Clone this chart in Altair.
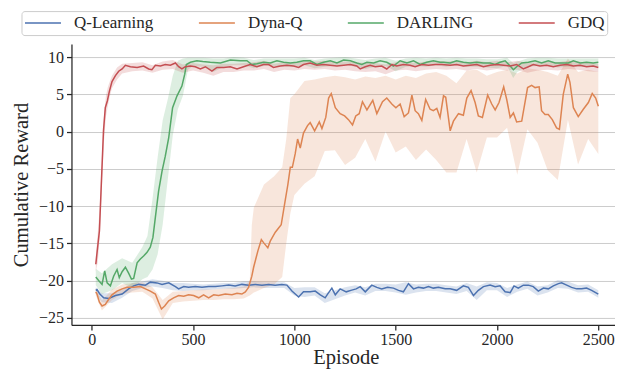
import altair as alt
import pandas as pd

FONT = "Liberation Serif"
METHODS = ["Q-Learning", "Dyna-Q", "DARLING", "GDQ"]
COLORS = ["#4C72B0", "#DD8452", "#55A868", "#C44E52"]
X_TICKS = [0, 500, 1000, 1500, 2000, 2500]
Y_TICKS = [-25, -20, -15, -10, -5, 0, 5, 10]

# ---------------- Q-Learning ----------------
QL_EP = [20, 26, 40, 59, 84, 117, 150, 182, 207, 232, 265, 289, 322, 347, 380, 413, 429, 454, 478, 511,
         544, 577, 610, 643, 676, 708, 741, 774, 807, 840, 873, 905, 938, 963, 988, 1021, 1045, 1078, 1103, 1128,
         1152, 1164, 1185, 1202, 1226, 1256, 1279, 1305, 1325, 1350, 1382, 1407, 1431, 1460, 1489, 1514, 1538, 1563, 1588, 1612,
         1637, 1662, 1686, 1711, 1744, 1769, 1801, 1834, 1859, 1884, 1908, 1933, 1966, 1991, 2015, 2040, 2065, 2084, 2105, 2130,
         2155, 2179, 2204, 2229, 2253, 2278, 2303, 2319, 2344, 2368, 2393, 2418, 2442, 2467, 2500]
QL_MEAN = [-21.3, -21.2, -21.8, -22.3, -22.4, -22.0, -21.8, -21.1, -20.7, -20.5, -20.6, -20.2, -20.3, -20.5, -20.3, -20.8, -21.1, -20.8, -20.9, -20.8,
           -20.9, -20.8, -20.8, -20.7, -20.6, -20.7, -20.5, -20.6, -20.5, -20.6, -20.5, -20.6, -20.5, -20.6, -21.4, -22.2, -21.5, -21.5, -21.4, -21.9,
           -22.3, -21.8, -21.0, -21.9, -21.1, -21.5, -21.3, -21.1, -20.8, -21.5, -20.6, -20.9, -21.1, -20.9, -21.0, -21.3, -21.5, -20.4, -21.1, -20.9,
           -21.0, -20.8, -21.0, -20.9, -21.1, -21.1, -21.3, -20.7, -20.9, -22.0, -21.3, -20.8, -20.6, -20.8, -20.7, -21.5, -21.6, -20.7, -21.0, -20.6,
           -20.6, -20.8, -21.4, -21.0, -21.1, -20.7, -20.4, -20.3, -20.6, -20.9, -21.1, -21.1, -21.0, -21.3, -21.8]
QL_BAND_EP = [20, 50, 100, 150, 200, 250, 300, 350, 400, 450, 500, 550, 600, 650, 700, 750, 800, 850, 900, 950,
              1000, 1050, 1100, 1150, 1200, 1250, 1300, 1350, 1400, 1450, 1500, 1550, 1600, 1650, 1700, 1750, 1800, 1850, 1900, 1950,
              2000, 2050, 2100, 2150, 2200, 2250, 2300, 2350, 2400, 2450, 2500]
QL_LO = [-21.7, -22.9, -23.0, -22.3, -21.4, -21.0, -20.8, -21.0, -21.3, -21.4, -21.3, -21.3, -21.2, -21.1, -21.1, -21.0, -20.9, -21.0, -21.0, -21.0,
         -22.0, -22.2, -22.0, -23.0, -22.5, -22.0, -21.6, -22.0, -21.4, -21.4, -21.6, -21.9, -21.6, -21.4, -21.4, -21.6, -21.8, -21.4, -22.6, -21.3,
         -21.3, -22.2, -21.5, -21.1, -22.0, -21.6, -21.0, -21.1, -21.6, -21.5, -22.3]
QL_HI = [-20.9, -21.7, -21.7, -21.2, -20.3, -20.1, -19.8, -20.0, -20.3, -20.3, -20.4, -20.5, -20.4, -20.3, -20.3, -20.1, -20.1, -20.2, -20.2, -20.2,
         -21.0, -20.9, -20.9, -21.7, -21.3, -20.9, -20.6, -20.9, -20.4, -20.4, -20.5, -20.2, -20.5, -20.4, -20.4, -20.6, -20.8, -20.3, -20.8, -20.2,
         -20.3, -21.0, -20.5, -20.1, -20.8, -20.6, -19.9, -20.1, -20.6, -20.5, -21.3]

# ---------------- Dyna-Q ----------------
DQ_EP = [20, 26, 38, 51, 67, 84, 100, 125, 150, 174, 207, 240, 265, 289, 314, 330, 344, 360, 380, 404,
         429, 454, 478, 503, 528, 552, 577, 602, 626, 659, 692, 717, 741, 758, 774, 790, 799, 820, 837, 848,
         869, 881, 906, 935, 952, 968, 980, 990, 1004, 1016, 1029, 1045, 1065, 1078, 1100, 1123, 1136, 1155, 1169, 1182,
         1202, 1226, 1248, 1267, 1287, 1303, 1320, 1336, 1358, 1387, 1407, 1435, 1456, 1481, 1501, 1522, 1542, 1563, 1580, 1596,
         1612, 1629, 1648, 1670, 1686, 1703, 1719, 1736, 1747, 1769, 1785, 1810, 1834, 1851, 1872, 1892, 1908, 1928, 1954, 1974,
         1991, 2010, 2033, 2048, 2065, 2081, 2097, 2122, 2151, 2171, 2188, 2208, 2220, 2237, 2253, 2273, 2294, 2308, 2327, 2349,
         2360, 2377, 2401, 2426, 2451, 2470, 2487, 2500]
DQ_MEAN = [-21.5, -21.8, -22.9, -23.4, -23.2, -22.5, -21.9, -21.4, -21.1, -20.9, -20.9, -20.8, -21.1, -21.4, -21.8, -22.9, -23.8, -23.4, -22.7, -22.3,
           -22.0, -22.1, -21.9, -22.0, -22.3, -21.9, -22.3, -21.9, -22.0, -21.8, -21.9, -21.7, -21.8, -21.5, -20.9, -19.4, -18.2, -16.0, -14.5, -14.9,
           -15.6, -14.7, -13.5, -12.5, -9.7, -7.1, -4.8, -4.8, -3.0, -1.0, -2.2, -0.2, 0.8, 1.2, 0.1, 1.3, 0.4, 1.9, 4.5, 5.1,
           3.2, 2.4, 2.1, 1.6, 0.9, 2.1, 2.4, 4.0, 2.9, 4.2, 2.4, 4.0, 4.5, 3.7, 3.2, 3.7, 2.0, 2.5, 4.9, 2.8,
           2.4, 1.5, 4.3, 3.0, 2.8, 3.1, 1.9, 4.8, 4.6, 0.1, 1.4, 2.4, 2.2, 4.5, 5.5, 3.9, 2.1, 1.9, 4.9, 3.7,
           2.9, 3.9, 6.0, 4.3, 1.9, 2.5, 1.3, 1.4, 5.9, 6.2, 5.9, 6.0, 2.8, 2.3, 2.3, 1.6, 0.5, 0.3, 5.0, 7.7,
           6.6, 3.2, 2.0, 3.0, 3.9, 5.1, 4.5, 3.4]
DQ_BAND_EP = [20, 50, 100, 150, 200, 250, 300, 350, 400, 450, 500, 550, 600, 650, 700, 750, 780, 790, 800, 850,
              900, 940, 960, 980, 1000, 1050, 1100, 1150, 1200, 1250, 1300, 1350, 1400, 1450, 1500, 1550, 1600, 1650, 1700, 1750,
              1800, 1850, 1900, 1950, 2000, 2050, 2100, 2150, 2200, 2250, 2300, 2350, 2400, 2450, 2500]
DQ_LO = [-22.0, -24.0, -22.6, -21.8, -21.6, -21.5, -22.4, -25.2, -23.0, -22.8, -22.7, -22.6, -22.6, -22.5, -22.5, -22.4, -22.0, -21.8, -21.6, -21.0,
         -20.5, -19.5, -15.0, -11.0, -8.5, -7.0, -6.0, -2.6, -2.5, -4.5, -3.5, -1.0, -4.0, 0.0, -2.8, -2.0, -3.8, -2.4, -3.8, -5.5,
         -5.5, -1.0, -5.5, -0.8, -0.8, 0.5, -5.8, 0.3, -1.5, -5.2, -6.5, 1.6, -4.4, -1.0, -3.0]
DQ_HI = [-21.0, -22.7, -21.2, -20.5, -20.3, -20.2, -20.9, -22.6, -21.5, -21.4, -21.3, -21.2, -21.2, -21.1, -21.0, -20.8, -20.0, -12.5, -10.2, -7.1,
         -6.0, -4.8, -1.0, 4.5, 5.0, 6.8, 7.0, 7.3, 7.5, 7.3, 7.0, 7.4, 7.2, 7.5, 7.0, 7.5, 7.2, 7.8, 8.0, 7.5,
         6.5, 8.2, 8.3, 7.5, 8.0, 8.3, 7.8, 8.5, 8.3, 8.0, 7.5, 9.8, 8.0, 8.3, 8.0]

# ---------------- DARLING ----------------
DA_EP = [20, 35, 51, 64, 76, 92, 108, 125, 136, 150, 166, 182, 196, 207, 224, 240, 256, 273, 289, 302,
         314, 330, 347, 363, 380, 399, 421, 445, 459, 467, 487, 519, 548, 585, 635, 684, 733, 766, 790, 815,
         848, 881, 914, 947, 980, 1012, 1045, 1078, 1111, 1144, 1177, 1210, 1243, 1276, 1308, 1333, 1358, 1391, 1423, 1456,
         1489, 1522, 1555, 1588, 1621, 1653, 1686, 1719, 1736, 1769, 1801, 1834, 1867, 1900, 1933, 1966, 1991, 2015, 2040, 2065,
         2081, 2097, 2122, 2155, 2188, 2220, 2253, 2287, 2319, 2352, 2377, 2410, 2442, 2475, 2500]
DA_MEAN = [-19.5, -20.0, -20.5, -18.7, -20.3, -20.7, -19.4, -18.5, -19.6, -18.8, -18.2, -19.0, -19.8, -19.7, -17.6, -17.1, -16.7, -16.2, -15.5, -14.2,
           -11.5, -8.0, -5.3, -3.3, -0.8, 3.2, 4.8, 6.1, 7.7, 9.0, 9.3, 9.5, 9.4, 9.3, 9.2, 9.6, 9.5, 9.5, 9.0, 9.1,
           9.3, 9.2, 9.5, 9.3, 9.2, 9.3, 9.5, 9.5, 9.0, 9.3, 9.5, 9.2, 9.6, 9.5, 9.2, 9.0, 9.3, 9.2, 9.5, 9.3,
           8.8, 9.5, 9.2, 9.5, 9.0, 9.3, 9.5, 9.3, 9.3, 9.2, 9.5, 9.3, 9.2, 9.3, 9.2, 9.2, 9.0, 9.3, 9.5, 8.8,
           8.3, 8.7, 9.2, 9.3, 9.5, 9.2, 9.5, 9.2, 9.2, 9.2, 9.5, 9.2, 9.3, 9.2, 9.3]
DA_BAND_EP = [20, 50, 100, 150, 200, 250, 275, 300, 325, 350, 375, 400, 425, 450, 475, 500, 550, 600, 650, 700,
              750, 800, 850, 900, 950, 1000, 1050, 1100, 1150, 1200, 1250, 1300, 1350, 1400, 1450, 1500, 1550, 1600, 1650, 1700,
              1750, 1800, 1850, 1900, 1950, 2000, 2050, 2080, 2100, 2150, 2200, 2250, 2300, 2350, 2400, 2450, 2500]
DA_LO = [-20.6, -21.8, -21.3, -20.3, -21.0, -19.8, -19.5, -18.5, -16.5, -12.5, -6.5, -0.5, 3.0, 4.8, 8.3, 8.8, 8.7, 8.0, 8.7, 8.9,
         8.9, 8.5, 8.8, 8.8, 8.7, 8.7, 8.9, 8.5, 8.7, 8.8, 9.0, 8.7, 8.4, 8.7, 8.8, 8.1, 8.7, 8.8, 8.7, 8.9,
         8.7, 8.9, 8.7, 8.7, 8.6, 8.5, 8.8, 7.2, 8.0, 8.7, 8.8, 8.8, 8.6, 8.7, 8.7, 8.7, 8.7]
DA_HI = [-18.4, -19.0, -17.8, -17.0, -17.6, -15.5, -14.0, -9.0, -3.5, 1.5, 4.3, 7.5, 9.5, 9.8, 9.9, 9.9, 9.9, 9.8, 9.8, 10.0,
         9.9, 9.6, 9.8, 9.8, 9.8, 9.8, 9.9, 9.6, 9.8, 9.9, 10.0, 9.8, 9.6, 9.8, 9.9, 9.5, 9.8, 9.9, 9.8, 9.9,
         9.8, 9.9, 9.8, 9.8, 9.7, 9.7, 9.9, 9.2, 9.4, 9.8, 9.9, 9.9, 9.8, 9.8, 9.8, 9.8, 9.8]

# ---------------- GDQ ----------------
GD_EP = [20, 38, 48, 58, 67, 77, 87, 100, 117, 133, 150, 166, 191, 224, 256, 281, 297, 314, 339, 363,
         388, 413, 429, 445, 462, 487, 511, 536, 561, 593, 618, 651, 684, 717, 749, 782, 815, 848, 873, 897,
         930, 963, 996, 1021, 1045, 1078, 1111, 1144, 1177, 1210, 1243, 1276, 1308, 1325, 1350, 1374, 1399, 1431, 1456, 1481,
         1505, 1538, 1571, 1596, 1629, 1662, 1695, 1727, 1769, 1801, 1834, 1867, 1900, 1933, 1966, 1999, 2032, 2065, 2097, 2130,
         2155, 2179, 2212, 2245, 2278, 2311, 2344, 2377, 2410, 2442, 2475, 2500]
GD_MEAN = [-17.8, -13.3, -6.6, 0.1, 3.2, 4.1, 5.4, 6.7, 7.5, 8.1, 8.4, 8.9, 8.7, 8.6, 8.8, 8.4, 8.3, 8.9, 8.8, 9.0,
           8.9, 9.2, 8.7, 8.4, 8.7, 8.8, 8.7, 8.4, 8.7, 8.1, 8.6, 8.6, 8.7, 8.4, 8.7, 9.0, 8.7, 9.0, 9.0, 8.6,
           8.8, 8.9, 8.8, 8.6, 9.0, 9.2, 8.9, 9.0, 8.9, 8.8, 8.9, 9.0, 8.8, 8.4, 8.7, 8.9, 8.7, 8.8, 8.4, 9.0,
           8.8, 9.0, 8.9, 8.7, 9.0, 8.9, 9.0, 9.0, 8.9, 9.0, 8.8, 8.9, 9.0, 8.7, 8.9, 9.0, 8.9, 8.8, 9.0, 8.4,
           8.7, 9.0, 8.8, 8.9, 8.7, 8.9, 9.0, 8.8, 8.9, 8.7, 8.8, 8.6]
GD_BAND_EP = [20, 30, 40, 50, 60, 70, 80, 90, 100, 125, 150, 200, 250, 300, 350, 400, 450, 500, 550, 600,
              650, 700, 750, 800, 850, 900, 950, 1000, 1050, 1100, 1150, 1200, 1250, 1300, 1350, 1400, 1450, 1500, 1550, 1600,
              1650, 1700, 1750, 1800, 1850, 1900, 1950, 2000, 2050, 2100, 2150, 2200, 2250, 2300, 2350, 2400, 2450, 2500]
GD_LO = [-18.8, -17.5, -14.0, -7.5, -1.5, 2.0, 3.5, 4.8, 5.8, 7.0, 7.8, 8.1, 8.2, 7.9, 8.3, 8.4, 7.9, 8.2, 7.9, 7.5,
         8.0, 8.0, 8.2, 8.2, 8.4, 8.0, 8.3, 8.2, 8.4, 8.3, 8.4, 8.2, 8.3, 8.1, 8.0, 8.1, 7.7, 8.2, 8.3, 8.1,
         8.3, 8.4, 8.3, 8.4, 8.2, 8.4, 8.2, 8.4, 8.2, 8.3, 7.9, 8.2, 8.3, 8.2, 8.4, 8.3, 8.1, 8.0]
GD_HI = [-16.8, -13.5, -10.0, -3.5, 2.0, 4.8, 6.0, 6.8, 7.5, 8.6, 9.1, 9.2, 9.3, 8.9, 9.4, 9.6, 9.0, 9.2, 9.0, 8.9,
         9.1, 9.1, 9.2, 9.3, 9.5, 9.1, 9.3, 9.2, 9.5, 9.4, 9.5, 9.3, 9.4, 9.3, 9.2, 9.2, 9.0, 9.3, 9.4, 9.2,
         9.4, 9.5, 9.4, 9.5, 9.3, 9.5, 9.3, 9.5, 9.3, 9.5, 9.2, 9.3, 9.4, 9.3, 9.5, 9.4, 9.2, 9.1]

SERIES = [
    ("Q-Learning", QL_EP, QL_MEAN, QL_BAND_EP, QL_LO, QL_HI),
    ("Dyna-Q", DQ_EP, DQ_MEAN, DQ_BAND_EP, DQ_LO, DQ_HI),
    ("DARLING", DA_EP, DA_MEAN, DA_BAND_EP, DA_LO, DA_HI),
    ("GDQ", GD_EP, GD_MEAN, GD_BAND_EP, GD_LO, GD_HI),
]

x_scale = alt.Scale(domain=[-100, 2608], nice=False, zero=False)
y_scale = alt.Scale(domain=[-25.94, 11.74], nice=False, zero=False)
color_scale = alt.Scale(domain=METHODS, range=COLORS)

x_axis = alt.Axis(values=X_TICKS, title="Episode", grid=False, format="d",
                  labelPadding=2, titlePadding=0)
y_axis = alt.Axis(values=Y_TICKS, title="Cumulative Reward", grid=True, format="d",
                  labelPadding=3, titlePadding=7)

legend = alt.Legend(
    orient="none", legendX=-50, legendY=-33, direction="horizontal",
    columns=4, columnPadding=44, title=None,
    symbolType="stroke", symbolSize=1296, symbolStrokeWidth=1.5, clipHeight=19,
    labelFont=FONT, labelFontSize=17, labelColor="#262626", labelOffset=12,
    strokeColor="#cccccc", fillColor="white", cornerRadius=3, padding=2.5,
)

band_layers = []
line_layers = []
for (name, ep, mean, bep, lo, hi), col in zip(SERIES, COLORS):
    bdf = pd.DataFrame({"ep": bep, "lo": lo, "hi": hi})
    ldf = pd.DataFrame({"ep": ep, "value": mean, "method": name})
    band_layers.append(
        alt.Chart(bdf).mark_area(opacity=0.2, color=col).encode(
            x=alt.X("ep:Q", scale=x_scale, axis=x_axis),
            y=alt.Y("lo:Q", scale=y_scale, axis=y_axis),
            y2="hi:Q",
        )
    )
    line_layers.append(
        alt.Chart(ldf).mark_line(strokeWidth=1.5).encode(
            x=alt.X("ep:Q", scale=x_scale, axis=x_axis),
            y=alt.Y("value:Q", scale=y_scale, axis=y_axis),
            color=alt.Color("method:N", scale=color_scale, sort=METHODS, legend=legend),
        )
    )

chart = alt.layer(*band_layers, *line_layers).properties(
    width=549, height=281,
    padding={"left": 2.5, "top": 2, "right": -5.2, "bottom": 0},
).configure_view(stroke=None).configure_axis(
    domainColor="#262626", domainWidth=1.25, tickColor="#262626", tickWidth=1.25, tickSize=5,
    labelFont=FONT, titleFont=FONT, labelFontSize=16, titleFontSize=20.5,
    labelColor="#262626", titleColor="#262626", titleFontWeight="normal",
    gridColor="#cccccc", gridWidth=1,
)

chart.save("out.html", embed_options={"renderer": "svg", "actions": False})
